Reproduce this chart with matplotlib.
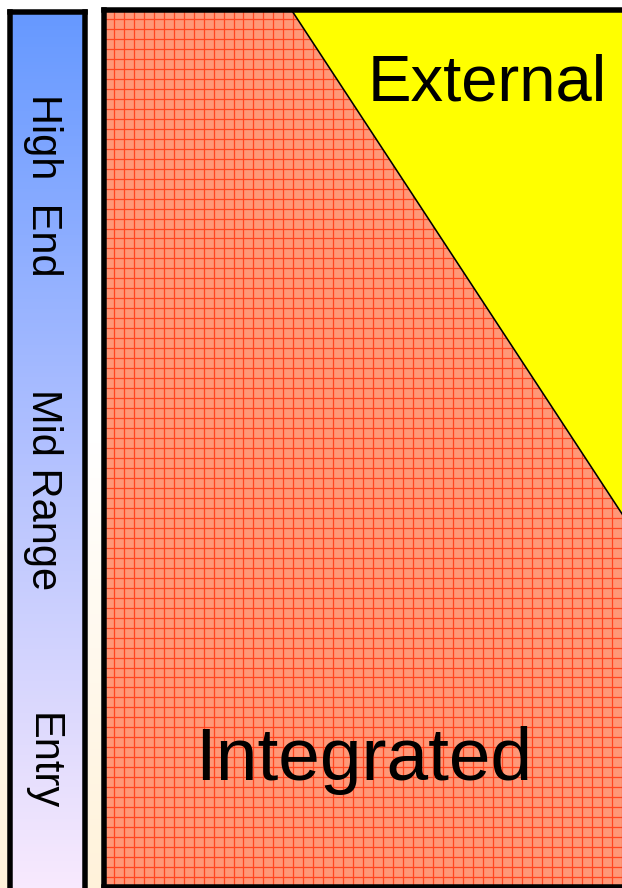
import numpy as np
import matplotlib.pyplot as plt
from matplotlib.colors import LinearSegmentedColormap
from matplotlib.patches import Polygon

plt.rcParams['font.family'] = ['Liberation Sans', 'DejaVu Sans']

# market tiers on the left bar, top to bottom
tiers = ["High  End", "Mid Range", "Entry"]
tier_pos = [185, 490, 762]  # label centre along the bar, px from top

# the two segments of the panel
segments = ["External", "Integrated"]
# where the boundary between them meets the top and the right edge
boundary_top_x = 290
boundary_right = (622, 515)

W, H = 622, 888
fig = plt.figure(figsize=(W / 100, H / 100), dpi=100)


def px_axes(x0, y0, x1, y1):
    ax = fig.add_axes([x0 / W, 1 - y1 / H, (x1 - x0) / W, (y1 - y0) / H])
    ax.set_xlim(x0, x1)
    ax.set_ylim(y1, y0)
    return ax


def px(n):
    # pixels -> points
    return n * 72 / 100


# background wash, white going to cream at the bottom
bg = px_axes(0, 0, W, H)
bg_cmap = LinearSegmentedColormap.from_list("bg", ["#ffffff", "#ffffff", "#fff2da"])
bg.imshow(np.linspace(0, 1, 256).reshape(-1, 1), cmap=bg_cmap, aspect="auto",
          extent=(0, W, H, 0))
bg.axis("off")

# left bar with the tier labels
bar = px_axes(9.5, 12.5, 85.3, H + 30)
bar_cmap = LinearSegmentedColormap.from_list("bar", ["#6699ff", "#b4c2ff", "#fdecfd"])
bar.imshow(np.linspace(0, 1, 256).reshape(-1, 1), cmap=bar_cmap, aspect="auto",
           extent=(9.5, 85.3, H + 30, 12.5))
bar.set_xticks([])
bar.set_yticks([])
for s in bar.spines.values():
    s.set_linewidth(px(5.5))
bar.spines["bottom"].set_visible(False)
for name, y in zip(tiers, tier_pos):
    bar.text(32, y, name, rotation=-90, rotation_mode="anchor", ha="center",
             va="baseline", fontsize=30, color="black")

# main panel
ax = px_axes(104, 9.7, 630, 887)
ax.set_facecolor("#ff9878")
ax.set_xticks(np.arange(102, 630, 10))
ax.set_yticks(np.arange(19, 890, 10))
ax.grid(True, color="#ff4520", linewidth=px(1.25))
ax.set_axisbelow(True)
ax.tick_params(length=0, labelbottom=False, labelleft=False)
for s in ax.spines.values():
    s.set_linewidth(px(5.5))

slope = (boundary_right[1] - 9.7) / (boundary_right[0] - boundary_top_x)
far_x = 640
far_y = 9.7 + (far_x - boundary_top_x) * slope
ax.add_patch(Polygon([(boundary_top_x, 9.7), (far_x, 9.7), (far_x, far_y)],
                     closed=True, facecolor="#ffff00", edgecolor="none", zorder=2))
ax.plot([boundary_top_x, far_x], [9.7, far_y], color="black", linewidth=px(1.6), zorder=3)

ax.text(487, 101, segments[0], ha="center", va="baseline", fontsize=47, zorder=4)
ax.text(363, 782, segments[1], ha="center", va="baseline", fontsize=54, zorder=4)

fig.savefig("out.png", dpi=100)
